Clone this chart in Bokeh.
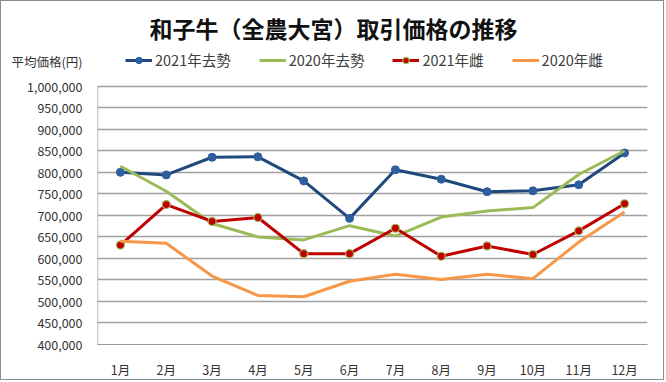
from bokeh.plotting import figure
from bokeh.models import (FactorRange, Range1d, FixedTicker, NumeralTickFormatter,
                          Label, Legend, LegendItem)
from bokeh.embed import file_html
from bokeh.resources import INLINE

months = ["1月", "2月", "3月", "4月", "5月", "6月", "7月", "8月", "9月", "10月", "11月", "12月"]
steer_2021 = [800000, 794000, 835000, 836000, 780000, 693000, 806000, 784000, 755000, 757000, 771000, 845000]
steer_2020 = [814000, 756000, 681000, 650000, 643000, 676000, 652000, 696000, 710000, 718000, 795000, 850000]
heifer_2021 = [631000, 725000, 686000, 695000, 611000, 611000, 670000, 605000, 629000, 609000, 664000, 727000]
heifer_2020 = [640000, 635000, 559000, 514000, 511000, 547000, 563000, 551000, 563000, 553000, 638000, 708000]
series_names = ["2021年去勢", "2020年去勢", "2021年雌", "2020年雌"]
y_ticks = list(range(400000, 1000001, 50000))
title_text = "和子牛（全農大宮）取引価格の推移"
y_title = "平均価格(円)"

FONT = "Noto Sans CJK JP"
Y_MIN, Y_MAX = 400000, 1000000
Y_TOP = 1196800          # headroom so title/legend sit inside the frame
Y_TITLE_POS = 1057400    # row of the axis title

p = figure(x_range=FactorRange(*months), y_range=Range1d(Y_MIN, Y_TOP),
           width=664, height=380, output_backend="svg", toolbar_location=None,
           min_border_left=96, min_border_top=0, min_border_right=18, min_border_bottom=33)
p.styles = {"border": "1px solid #8c8c8c"}
p.outline_line_color = None
p.background_fill_color = "white"
p.border_fill_color = "white"

# axes
p.yaxis.ticker = FixedTicker(ticks=y_ticks + [Y_TITLE_POS])
p.yaxis.formatter = NumeralTickFormatter(format="0,0")
p.yaxis.major_label_overrides = {Y_TITLE_POS: y_title}
for ax in (p.xaxis[0], p.yaxis[0]):
    ax.axis_line_color = "#9a9a9a"
    ax.axis_line_width = 1.2
    ax.major_tick_line_color = None
    ax.minor_tick_line_color = None
    ax.major_label_text_font = FONT
    ax.major_label_text_font_size = "12.5px"
    ax.major_label_text_color = "#333333"
p.yaxis.axis_line_color = None
p.yaxis.major_label_standoff = 9
p.xaxis.major_label_standoff = 9
p.xgrid.grid_line_color = None
p.ygrid.ticker = FixedTicker(ticks=y_ticks)
p.ygrid.grid_line_color = "#a0a0a0"
p.ygrid.grid_line_width = 1.6

# y axis line limited to the value range (synthetic x=0 is the left edge)
p.segment(x0=[0], y0=[Y_MIN], x1=[0], y1=[Y_MAX], line_color="#9a9a9a", line_width=1.4)

# series
r1 = p.line(months, steer_2021, line_color="#1f497d", line_width=3)
m1 = p.scatter(months, steer_2021, size=8, fill_color="#2d5f9e", line_color="#2d5f9e")
r2 = p.line(months, steer_2020, line_color="#9bbb59", line_width=3)
r3 = p.line(months, heifer_2021, line_color="#c00000", line_width=3)
m3 = p.scatter(months, heifer_2021, size=8, fill_color="#c00000", line_color="#9bbb59", line_width=1.2)
r4 = p.line(months, heifer_2020, line_color="#f79646", line_width=3)

legend = Legend(items=[
    LegendItem(label=series_names[0], renderers=[r1, m1]),
    LegendItem(label=series_names[1], renderers=[r2]),
    LegendItem(label=series_names[2], renderers=[r3, m3]),
    LegendItem(label=series_names[3], renderers=[r4]),
], orientation="horizontal", location=(28, 274))
legend.glyph_width = 27
legend.glyph_height = 16
legend.label_standoff = 3
legend.spacing = 28
legend.padding = 0
legend.margin = 0
legend.border_line_color = None
legend.background_fill_alpha = 0
legend.label_text_font = FONT
legend.label_text_font_size = "14.5px"
legend.label_text_color = "#404040"
p.add_layout(legend)

p.add_layout(Label(x=236, y=317, x_units="screen", y_units="screen", text=title_text,
                   text_align="center", text_baseline="middle", text_font=FONT,
                   text_font_size="23px", text_font_style="bold", text_color="#111111"))

open("out.html", "w").write(file_html(p, INLINE))
